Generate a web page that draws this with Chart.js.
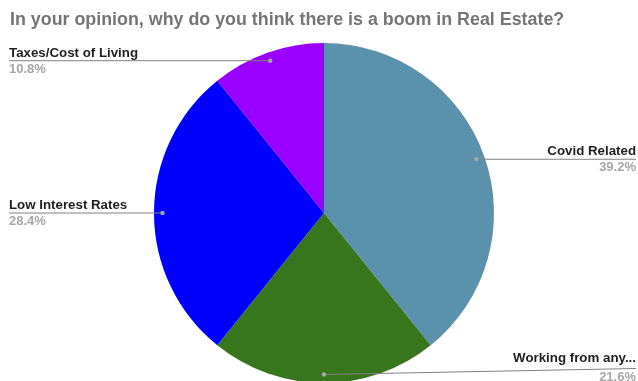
<!DOCTYPE html>
<html>
<head>
<meta charset="utf-8">
<script src="https://cdn.jsdelivr.net/npm/chart.js@4.4.0/dist/chart.umd.min.js"></script>
<style>
  html, body { margin: 0; padding: 0; background: #fff; overflow: hidden; }
</style>
</head>
<body>
<canvas id="boomChart" width="638" height="381"></canvas>
<script>
const chartTitle = 'In your opinion, why do you think there is a boom in Real Estate?';
const reasons = ['Covid Related', 'Working from any...', 'Low Interest Rates', 'Taxes/Cost of Living'];
const shares = [39.2, 21.6, 28.4, 10.8];
const sliceColors = ['#5a92ae', '#38761d', '#0000ff', '#9900ff'];

const FONT = '"Liberation Sans", Arial, sans-serif';

// leader line + name/percent for every slice
const leaderLabels = {
    id: 'leaderLabels',
    afterDatasetsDraw(chart) {
        const ctx = chart.ctx;
        const meta = chart.getDatasetMeta(0);
        const total = shares.reduce((a, b) => a + b, 0);

        meta.data.forEach((arc, i) => {
            const p = arc.getProps(['x', 'y', 'startAngle', 'endAngle', 'outerRadius'], true);
            const mid = (p.startAngle + p.endAngle) / 2;
            const px = p.x + Math.cos(mid) * p.outerRadius * 0.95;
            const py = p.y + Math.sin(mid) * p.outerRadius * 0.95;
            const onRight = Math.cos(mid) > -0.01;
            const endX = onRight ? chart.width - 2 : 9;
            // labels near the bottom edge get pushed up a little
            const lineY = Math.min(py, chart.height - 12.5);
            const pushed = lineY < py;

            ctx.save();
            ctx.strokeStyle = '#808080';
            ctx.lineWidth = 1;
            ctx.beginPath();
            ctx.moveTo(px, py);
            ctx.lineTo(endX, lineY);
            ctx.stroke();

            ctx.fillStyle = '#a8a8a8';
            ctx.beginPath();
            ctx.arc(px, py, 2.2, 0, Math.PI * 2);
            ctx.fill();

            ctx.textAlign = onRight ? 'right' : 'left';
            ctx.textBaseline = 'alphabetic';
            ctx.fillStyle = '#1f1f1f';
            ctx.font = 'bold 13.3px ' + FONT;
            ctx.fillText(reasons[i], endX, lineY - (pushed ? 6.5 : 4));

            ctx.fillStyle = '#a6a6a6';
            ctx.font = 'bold 13px ' + FONT;
            ctx.fillText((shares[i] / total * 100).toFixed(1) + '%', endX, lineY + 12);
            ctx.restore();
        });
    }
};

const data = {
    labels: reasons,
    datasets: [{
        data: shares,
        backgroundColor: sliceColors,
        borderWidth: 0,
        radius: 170
    }]
};

const config = {
    type: 'pie',
    data: data,
    options: {
        responsive: false,
        animation: false,
        layout: {
            padding: {top: 4, left: 10, right: 0, bottom: 0}
        },
        plugins: {
            legend: {display: false},
            tooltip: {enabled: false},
            title: {
                display: true,
                text: chartTitle,
                align: 'start',
                color: '#757575',
                font: {family: FONT, size: 17.85, weight: 'bold'},
                padding: {top: 5, bottom: 14.6}
            }
        }
    },
    plugins: [leaderLabels]
};

const boomChart = new Chart(document.getElementById('boomChart'), config);
</script>
</body>
</html>
